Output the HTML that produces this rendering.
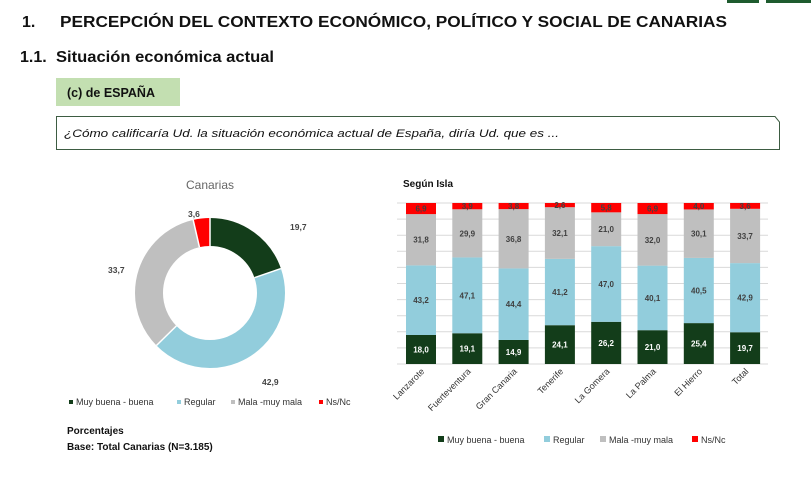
<!DOCTYPE html>
<html><head><meta charset="utf-8"><style>
html,body{margin:0;padding:0;background:#fff;width:811px;height:478px;overflow:hidden}
svg{display:block}
text{font-family:"Liberation Sans",sans-serif}
</style></head><body>
<svg id="s" width="811" height="478" viewBox="0 0 811 478" xmlns="http://www.w3.org/2000/svg">
<rect x="727" y="0" width="32" height="3" fill="#1e5b2e"/>
<rect x="766" y="0" width="45" height="3" fill="#1e5b2e"/>
<text x="22" y="27" font-size="16" font-weight="bold" fill="#111">1.</text>
<text x="60" y="27" font-size="16" font-weight="bold" fill="#111" textLength="667" lengthAdjust="spacingAndGlyphs">PERCEPCIÓN DEL CONTEXTO ECONÓMICO, POLÍTICO Y SOCIAL DE CANARIAS</text>
<text x="20" y="62" font-size="16" font-weight="bold" fill="#111">1.1.</text>
<text x="56" y="62" font-size="16" font-weight="bold" fill="#111" textLength="218" lengthAdjust="spacingAndGlyphs">Situación económica actual</text>
<rect x="56" y="78" width="124" height="28" fill="#c3dfb1"/>
<text x="67" y="97" font-size="13" font-weight="bold" fill="#111" textLength="88" lengthAdjust="spacingAndGlyphs">(c) de ESPAÑA</text>
<path d="M56.5,116.5 H775 L779.5,122 V149.5 H56.5 Z" fill="none" stroke="#3d5c42" stroke-width="1"/>
<text x="64" y="137" font-size="11" font-style="italic" fill="#111" textLength="495" lengthAdjust="spacingAndGlyphs">¿Cómo calificaría Ud. la situación económica actual de España, diría Ud. que es ...</text>
<text x="210" y="189" font-size="12" fill="#666" text-anchor="middle">Canarias</text>
<text x="403" y="187" font-size="10" font-weight="bold" fill="#111">Según Isla</text>
<g id="donut" transform="rotate(-90 210 293)"></g>
<g id="bars"></g>
<text x="290" y="230" font-size="8.5" font-weight="bold" fill="#444">19,7</text>
<text x="188" y="217" font-size="8.5" font-weight="bold" fill="#444">3,6</text>
<text x="108" y="273" font-size="8.5" font-weight="bold" fill="#444">33,7</text>
<text x="262" y="385" font-size="8.5" font-weight="bold" fill="#444">42,9</text>
<g font-size="9" fill="#333">
<rect x="69" y="400" width="4" height="4" fill="#133d1a"/><text x="76" y="405">Muy buena - buena</text>
<rect x="177" y="400" width="4" height="4" fill="#92cddc"/><text x="184" y="405">Regular</text>
<rect x="231" y="400" width="4" height="4" fill="#bfbfbf"/><text x="238" y="405">Mala -muy mala</text>
<rect x="319" y="400" width="4" height="4" fill="#ff0000"/><text x="326" y="405">Ns/Nc</text>
<rect x="438" y="436" width="6" height="6" fill="#133d1a"/><text x="447" y="443">Muy buena - buena</text>
<rect x="544" y="436" width="6" height="6" fill="#92cddc"/><text x="553" y="443">Regular</text>
<rect x="600" y="436" width="6" height="6" fill="#bfbfbf"/><text x="609" y="443">Mala -muy mala</text>
<rect x="692" y="436" width="6" height="6" fill="#ff0000"/><text x="701" y="443">Ns/Nc</text>
</g>
<text x="67" y="434" font-size="10" font-weight="bold" fill="#111">Porcentajes</text>
<text x="67" y="450" font-size="10" font-weight="bold" fill="#111">Base: Total Canarias (N=3.185)</text>
</svg>
<script>
var NS="http://www.w3.org/2000/svg",C=["#133d1a","#92cddc","#bfbfbf","#ff0000"];
function el(t,a,p,txt){var e=document.createElementNS(NS,t);for(var k in a)e.setAttribute(k,a[k]);if(txt)e.textContent=txt;p.appendChild(e);return e;}
// donut
var d=document.getElementById("donut"),r=61,circ=2*Math.PI*r,vals=[19.7,42.9,33.7,3.6],off=0;
vals.forEach(function(v,i){var L=v/99.9*circ;el("circle",{cx:210,cy:293,r:r,fill:"none",stroke:C[i],"stroke-width":28,"stroke-dasharray":L+" "+(circ-L),"stroke-dashoffset":-off},d);off+=L;});
// separators
off=0;vals.forEach(function(v){var a=(off/99.9)*2*Math.PI-Math.PI/2;el("line",{x1:210+47*Math.cos(a),y1:293+47*Math.sin(a),x2:210+75*Math.cos(a),y2:293+75*Math.sin(a),stroke:"#fff","stroke-width":1.5},document.getElementById("s"));off+=v;});
// bars
var b=document.getElementById("bars");
for(var g=0;g<=10;g++){var y=203+g*16.1;el("line",{x1:397,x2:768,y1:y,y2:y,stroke:"#d9d9d9","stroke-width":1},b);}
var data=[["Lanzarote",18,43.2,31.8,6.9],["Fuerteventura",19.1,47.1,29.9,3.9],["Gran Canaria",14.9,44.4,36.8,3.8],["Tenerife",24.1,41.2,32.1,2.6],["La Gomera",26.2,47,21,5.8],["La Palma",21,40.1,32,6.9],["El Hierro",25.4,40.5,30.1,4],["Total",19.7,42.9,33.7,3.6]];
data.forEach(function(r,i){var x=406+i*46.3,y=364,tot=r[1]+r[2]+r[3]+r[4];
for(var j=0;j<4;j++){var h=r[j+1]/tot*161;y-=h;el("rect",{x:x,y:y,width:30,height:h,fill:C[j]},b);
var lab=r[j+1].toFixed(1).replace(".",",");el("text",{x:x+15,y:y+h/2+3,"font-size":8,"font-weight":"bold","text-anchor":"middle",fill:j==0?"#fff":"#404040"},b,lab);}
var cx=x+19;el("text",{x:cx,y:372,"font-size":9,fill:"#333","text-anchor":"end",transform:"rotate(-45 "+cx+" 372)"},b,r[0]);});
</script>
</body></html>
